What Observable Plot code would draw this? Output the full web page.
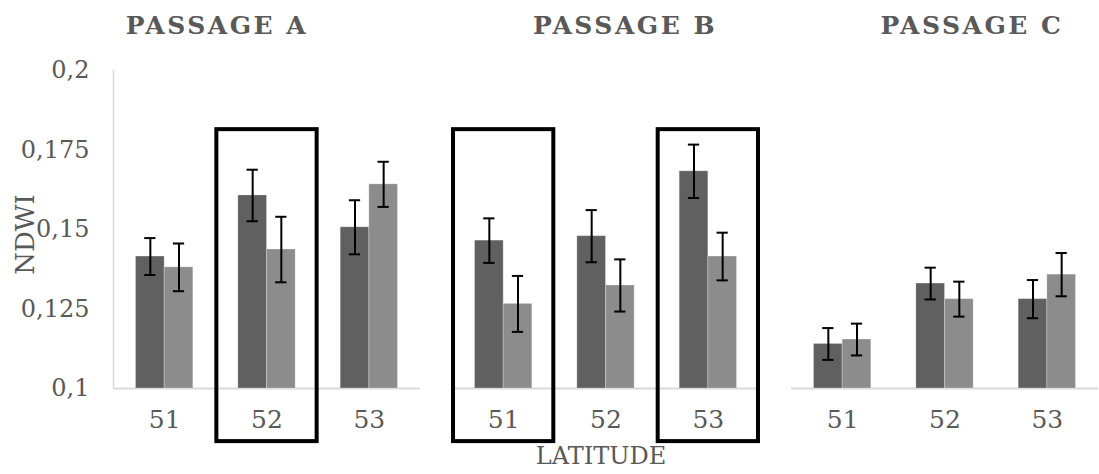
<!DOCTYPE html>
<html><head><meta charset="utf-8">
<script src="https://cdn.jsdelivr.net/npm/d3@7"></script>
<script src="https://cdn.jsdelivr.net/npm/@observablehq/plot@0.6"></script>
<style>
body{margin:0;background:#fff}
#chart svg{display:block;}
#chart svg text{font-family:"DejaVu Serif","Liberation Serif",serif !important;}
</style>
</head><body><div id="chart"></div>
<script>
const passages = ["A", "B", "C"];
const passageTitles = ["PASSAGE A", "PASSAGE B", "PASSAGE C"];
const latitudes = [51, 52, 53];
const yTicks = [0.1, 0.125, 0.15, 0.175, 0.2];

// series 1 (dark) and series 2 (light): mean NDWI and error half-width
const darkA = [0.1415, 0.1607, 0.1507];
const darkAErr = [0.0058, 0.0081, 0.0085];
const lightA = [0.1381, 0.1437, 0.1642];
const lightAErr = [0.0075, 0.0103, 0.0071];
const darkB = [0.1465, 0.1479, 0.1683];
const darkBErr = [0.0070, 0.0082, 0.0084];
const lightB = [0.1266, 0.1324, 0.1415];
const lightBErr = [0.0088, 0.0082, 0.0075];
const darkC = [0.1140, 0.1330, 0.1281];
const darkCErr = [0.0050, 0.0050, 0.0060];
const lightC = [0.1154, 0.1281, 0.1358];
const lightCErr = [0.0050, 0.0055, 0.0068];

const highlighted = [
  {passage: "A", lat: 52},
  {passage: "B", lat: 51},
  {passage: "B", lat: 53}
];

const seriesSets = {
  A: [[darkA, darkAErr], [lightA, lightAErr]],
  B: [[darkB, darkBErr], [lightB, lightBErr]],
  C: [[darkC, darkCErr], [lightC, lightCErr]]
};
const seriesNames = ["dark", "light"];
const rows = [];
passages.forEach(p => {
  seriesSets[p].forEach(([vals, errs], si) => {
    latitudes.forEach((lat, li) => {
      rows.push({passage: p, lat, series: seriesNames[si], value: vals[li], err: errs[li]});
    });
  });
});

const BAR = 0.28;   // bar width in latitude units
const CAP = 0.055;  // half cap width
const x1 = d => d.series === "dark" ? d.lat - BAR : d.lat;
const x2 = d => d.series === "dark" ? d.lat : d.lat + BAR;
const xc = d => d.series === "dark" ? d.lat - BAR / 2 : d.lat + BAR / 2;
const fmt = d => String(d).replace(".", ",");
const titleDx = [-50, 19, 27];

const chart = Plot.plot({
  width: 1099,
  height: 474,
  marginTop: 70,
  marginBottom: 86,
  marginLeft: 112,
  marginRight: 0,
  style: {color: "#595959", background: "#fff"},
  fx: {domain: passages, paddingInner: 0.093, paddingOuter: 0, axis: null, label: null},
  x: {domain: [50.5, 53.5]},
  y: {domain: [0.1, 0.2]},
  color: {domain: seriesNames, range: ["#606060", "#8c8c8c"]},
  marks: [
    Plot.ruleY([0.1], {stroke: "#d9d9d9", strokeWidth: 2}),
    Plot.ruleX([{passage: "A"}], {fx: "passage", x: () => 50.5, y1: () => 0.1, y2: () => 0.2, stroke: "#d9d9d9", strokeWidth: 1.5}),
    Plot.rect(rows, {fx: "passage", x1, x2, y1: () => 0.1, y2: "value", fill: "series", stroke: "#ffffff", strokeOpacity: 0.25, strokeWidth: 1}),
    Plot.ruleX(rows, {fx: "passage", x: xc, y1: d => d.value - d.err, y2: d => d.value + d.err, stroke: "#000", strokeWidth: 2}),
    Plot.ruleY(rows, {fx: "passage", x1: d => xc(d) - CAP, x2: d => xc(d) + CAP, y: d => d.value - d.err, stroke: "#000", strokeWidth: 2}),
    Plot.ruleY(rows, {fx: "passage", x1: d => xc(d) - CAP, x2: d => xc(d) + CAP, y: d => d.value + d.err, stroke: "#000", strokeWidth: 2}),
    Plot.rect(highlighted, {fx: "passage", x1: d => d.lat - 0.49, x2: d => d.lat + 0.49, y1: () => 0.0833, y2: () => 0.1814, fill: "none", stroke: "#000", strokeWidth: 4, clip: false}),
    Plot.axisY({ticks: yTicks, tickFormat: fmt, tickSize: 0, tickPadding: 24, fontSize: 24, label: null}),
    Plot.axisX({ticks: latitudes, tickSize: 0, tickPadding: 22, fontSize: 25, label: null, tickFormat: d => String(d)}),
    ...passages.map((p, i) => Plot.text([passageTitles[i]], {fx: () => p, frameAnchor: "top", lineAnchor: "middle", dx: titleDx[i], dy: -45, fontSize: 25, fontWeight: "bold", fill: "#595959", text: d => d})),
    Plot.text(["NDWI"], {fx: () => "A", frameAnchor: "left", textAnchor: "middle", lineAnchor: "middle", dx: -88, dy: 5, rotate: -90, fontSize: 26, fill: "#595959", text: d => d}),
    Plot.text(["LATITUDE"], {fx: () => "B", frameAnchor: "bottom", lineAnchor: "middle", dx: -5, dy: 68, fontSize: 24, fill: "#595959", text: d => d})
  ]
});
d3.select(chart).selectAll("text").filter(function() { return this.textContent.startsWith("PASSAGE"); })
  .attr("letter-spacing", "2.5px");
document.getElementById("chart").appendChild(chart);
</script>
</body></html>
